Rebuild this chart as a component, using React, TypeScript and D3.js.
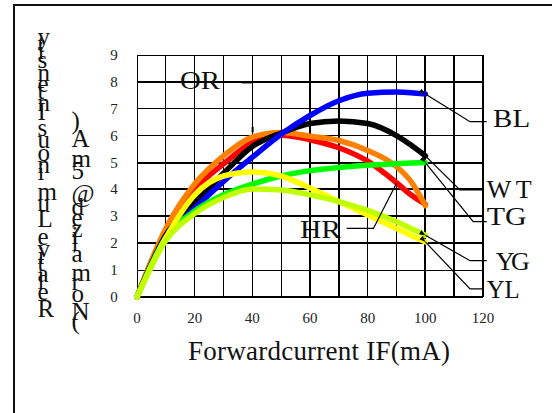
import React from "react";
import * as d3 from "d3";

// ---- data ----
const currentMA = [0, 10, 20, 30, 40, 50, 60, 70, 80, 90, 95, 100];
const hrValues = [0, 2.5, 4.0, 4.95, 5.75, 6.02, 5.85, 5.55, 5.05, 4.25, 3.8, 3.45];
const orValues = [0, 2.55, 4.2, 5.25, 5.95, 6.12, 5.98, 5.82, 5.45, 4.85, 4.3, 3.4];
const wtValues = [0, 2.3, 3.5, 4.6, 5.6, 6.1, 6.45, 6.55, 6.45, 6.0, 5.65, 5.25];
const blValues = [0, 2.2, 3.3, 4.3, 5.2, 6.05, 6.75, 7.3, 7.58, 7.62, 7.6, 7.55];
const tgValues = [0, 2.2, 3.2, 3.8, 4.2, 4.5, 4.7, 4.82, 4.9, 4.96, 4.98, 5.0];
const ylValues = [0, 2.2, 3.8, 4.5, 4.65, 4.5, 4.05, 3.55, 3.05, 2.55, 2.3, 2.05];
const ygValues = [0, 2.1, 3.1, 3.7, 4.02, 3.98, 3.8, 3.55, 3.22, 2.8, 2.55, 2.3];
const seriesNames = ["HR", "OR", "WT", "BL", "TG", "YL", "YG"];
const xTickValues = [0, 20, 40, 60, 80, 100, 120];
const yTickValues = [0, 1, 2, 3, 4, 5, 6, 7, 8, 9];
const xTitle = "Forwardcurrent IF(mA)";
const yTitle1 = "Relative Luminous Intensity";
const yTitle2 = "(Normalized@5mA)";

// ---- styles / layout ----
const FONT = "Liberation Serif, Times New Roman, serif";
const seriesColors: Record<string, string> = {
  HR: "#ff0000",
  OR: "#ff8000",
  WT: "#000000",
  BL: "#0000ff",
  TG: "#00ff00",
  YL: "#ffff00",
  YG: "#bfff00",
};
const seriesValues: Record<string, number[]> = {
  HR: hrValues,
  OR: orValues,
  WT: wtValues,
  BL: blValues,
  TG: tgValues,
  YL: ylValues,
  YG: ygValues,
};
// leader lines (data units)
const leaders: { pts: [number, number][]; arrow: boolean; w: number }[] = [
  { pts: [[100, 7.55], [115.5, 6.52], [121.3, 6.52]], arrow: true, w: 1.2 },
  { pts: [[100, 5.25], [112, 3.98], [119.7, 3.98]], arrow: true, w: 1.2 },
  { pts: [[100, 5.0], [116.6, 2.8], [121.3, 2.8]], arrow: true, w: 1.2 },
  { pts: [[100, 2.3], [115.5, 1.35], [121.3, 1.35]], arrow: true, w: 1.2 },
  { pts: [[100, 2.05], [115.5, 0.3], [120.1, 0.3]], arrow: true, w: 1.2 },
  { pts: [[72.7, 2.55], [82, 2.55], [90, 4.23]], arrow: false, w: 1.2 },
  { pts: [[36.3, 7.98], [40.1, 7.98]], arrow: false, w: 2 },
  { pts: [[40.1, 6.33], [40.1, 6.12]], arrow: false, w: 2 },
];
// label anchor (data units), rendered width and spacing mode
const labelLayout: Record<string, { x: number; y: number; w: number; adj: string }> = {
  OR: { x: 14.9, y: 7.72, w: 40, adj: "spacingAndGlyphs" },
  HR: { x: 56.5, y: 2.2, w: 41, adj: "spacingAndGlyphs" },
  BL: { x: 123.5, y: 6.31, w: 37, adj: "spacingAndGlyphs" },
  WT: { x: 121.3, y: 3.67, w: 45, adj: "spacing" },
  TG: { x: 121.3, y: 2.68, w: 40, adj: "spacingAndGlyphs" },
  YG: { x: 124.4, y: 1.0, w: 34, adj: "spacing" },
  YL: { x: 121.3, y: -0.05, w: 33, adj: "spacingAndGlyphs" },
};
const xThick = [60, 70, 100, 110, 120];
const yThick = [0, 2, 3, 4, 5, 8];

export default function App() {
  const W = 552;
  const H = 413;
  const x = d3.scaleLinear().domain([0, 120]).range([137, 483]);
  const y = d3.scaleLinear().domain([0, 9]).range([297, 55]);

  const line = d3
    .line<[number, number]>()
    .x((d) => x(d[0]))
    .y((d) => y(d[1]))
    .curve(d3.curveMonotoneX);
  const poly = d3
    .line<[number, number]>()
    .x((d) => x(d[0]))
    .y((d) => y(d[1]));

  const xGrid = d3.range(0, 121, 10);
  const yGrid = d3.range(0, 10, 1);

  return (
    <svg
      width={W}
      height={H}
      style={{ position: "absolute", left: 0, top: 0, background: "#fff" }}
    >
      <defs>
        <marker
          id="arr"
          viewBox="0 0 10 10"
          refX="0"
          refY="5"
          markerWidth="5"
          markerHeight="5"
          orient="auto-start-reverse"
        >
          <path d="M0,5 L10,1 L10,9 Z" fill="#000" />
        </marker>
      </defs>
      <rect x={0} y={0} width={W} height={H} fill="#fff" />
      {/* frame */}
      <path d="M14,413 V5 H552" fill="none" stroke="#111" strokeWidth={2} />

      {/* grid */}
      <g shapeRendering="crispEdges">
        {xGrid.map((v) => (
          <line
            key={"gx" + v}
            x1={x(v)}
            x2={x(v)}
            y1={y(0)}
            y2={y(9)}
            stroke="#000"
            strokeWidth={xThick.includes(v) ? 2 : 1}
          />
        ))}
        {yGrid.map((v) => (
          <line
            key={"gy" + v}
            x1={x(0)}
            x2={x(120)}
            y1={y(v)}
            y2={y(v)}
            stroke="#000"
            strokeWidth={yThick.includes(v) ? 2 : 1}
          />
        ))}
      </g>

      {/* tick labels */}
      {yTickValues.map((v) => (
        <text
          key={"yt" + v}
          x={x(0) - 23}
          y={y(v) + 5}
          fontSize={15}
          fontFamily={FONT}
          textAnchor="middle"
          fill="#222"
        >
          {v}
        </text>
      ))}
      {xTickValues.map((v) => (
        <text
          key={"xt" + v}
          x={x(v)}
          y={y(0) + 26}
          fontSize={15}
          fontFamily={FONT}
          textAnchor="middle"
          fill="#222"
        >
          {v}
        </text>
      ))}

      {/* axis titles */}
      <text
        x={x(0) + 51}
        y={360}
        fontSize={27}
        fontFamily={FONT}
        textLength={262}
        lengthAdjust="spacing"
        fill="#111"
      >
        {xTitle}
      </text>
      <text
        transform="translate(37.5,317) rotate(-90)"
        rotate="90"
        fontSize={25}
        fontFamily={FONT}
        fill="#111"
      >
        {yTitle1}
      </text>
      <text
        transform="translate(71.5,328.5) rotate(-90)"
        rotate="90"
        fontSize={25}
        fontFamily={FONT}
        fill="#111"
      >
        {yTitle2}
      </text>

      {/* curves */}
      {seriesNames.map((name) => {
        const pts = currentMA.map(
          (c, i) => [c, seriesValues[name][i]] as [number, number]
        );
        return (
          <path
            key={name}
            d={line(pts) || ""}
            fill="none"
            stroke={seriesColors[name]}
            strokeWidth={5.5}
            strokeLinecap="round"
            strokeLinejoin="round"
          />
        );
      })}

      {/* leaders */}
      {leaders.map((l, i) => (
        <path
          key={"ld" + i}
          d={poly(l.pts) || ""}
          fill="none"
          stroke="#000"
          strokeWidth={l.w}
          markerStart={l.arrow ? "url(#arr)" : undefined}
        />
      ))}

      {/* labels */}
      {seriesNames.map((name) => {
        const L = labelLayout[name];
        return (
          <text
            key={"lb" + name}
            x={x(L.x)}
            y={y(L.y)}
            fontSize={26}
            fontFamily={FONT}
            textLength={L.w}
            lengthAdjust={L.adj}
            fill="#111"
          >
            {name}
          </text>
        );
      })}
    </svg>
  );
}
